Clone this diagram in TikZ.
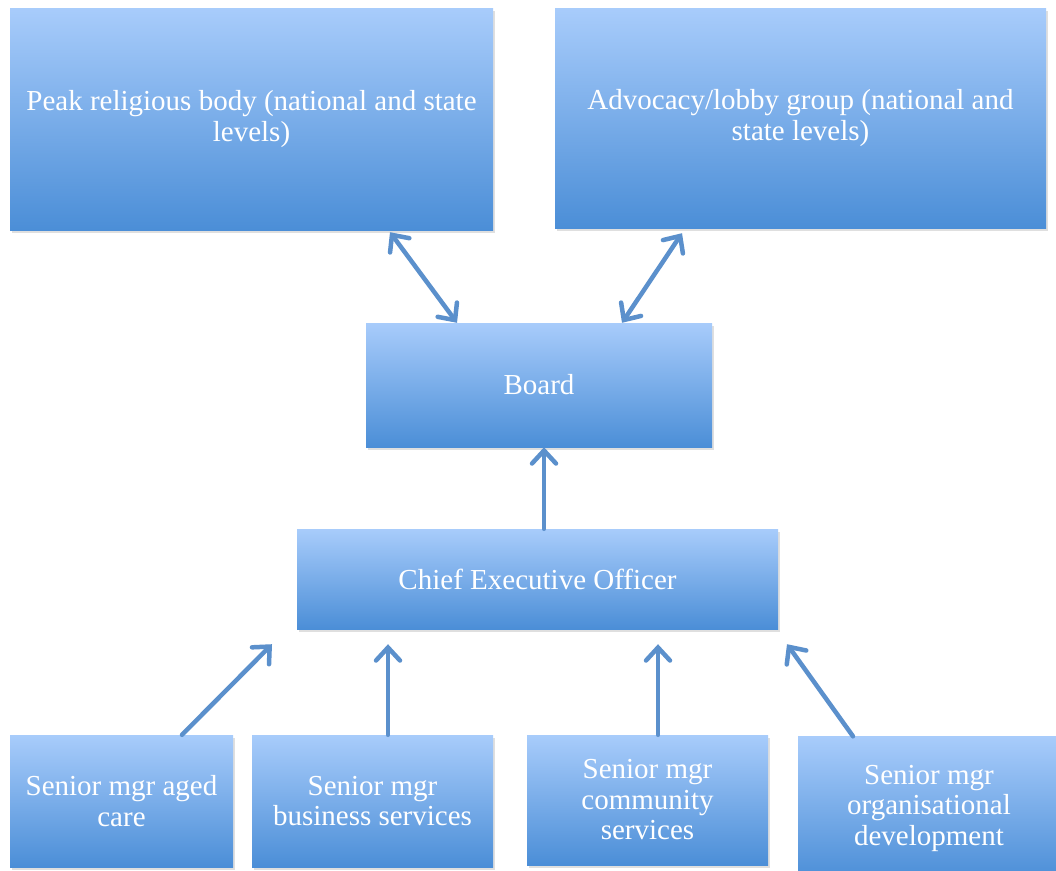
\documentclass[tikz,border=0pt]{standalone}
\usepackage{fontspec}
\setmainfont{Liberation Serif}
\usetikzlibrary{arrows.meta,shadows}
\definecolor{boxtop}{HTML}{A8CCFB}
\definecolor{boxbottom}{HTML}{4B8ED7}
\definecolor{linkblue}{HTML}{5B90CC}
\tikzset{
  orgbox/.style={rectangle, inner sep=4pt, align=center, text=white,
    top color=boxtop, bottom color=boxbottom, draw=none,
    drop shadow={shadow xshift=1.5pt, shadow yshift=-2.5pt, opacity=0.25},
    font=\fontsize{29}{30.5}\selectfont},
  link/.style={draw=linkblue, line width=4.5pt, line cap=round,
    -{Straight Barb[length=13pt,width=24pt,line cap=round]}},
  twoway/.style={link, {Straight Barb[length=13pt,width=24pt,line cap=round]}-{Straight Barb[length=13pt,width=24pt,line cap=round]}}
}
\begin{document}
\begin{tikzpicture}[x=1pt,y=-1pt]
\useasboundingbox[fill=white] (0,0) rectangle (1056,870);

% top level
\node[orgbox, minimum width=483pt, minimum height=222pt] (peak) at (251.5,119)
  {Peak religious body (national and state\\levels)};
\node[orgbox, minimum width=491pt, minimum height=220pt] (advocacy) at (800.5,118)
  {Advocacy/lobby group (national and\\state levels)};

% governance
\node[orgbox, minimum width=346pt, minimum height=124pt] (board) at (539,385) {Board};
\node[orgbox, minimum width=481pt, minimum height=100pt] (ceo) at (537.5,579) {Chief Executive Officer};

% senior managers
\node[orgbox, minimum width=223pt, minimum height=132pt] (aged) at (121.5,801)
  {Senior mgr aged\\care};
\node[orgbox, minimum width=241pt, minimum height=132pt] (business) at (372.5,801)
  {Senior mgr\\business services};
\node[orgbox, minimum width=241pt, minimum height=130pt] (community) at (647.5,800)
  {Senior mgr\\community\\services};
\node[orgbox, minimum width=262pt, minimum height=143pt] (orgdev) at (929,808)
  {Senior mgr\\organisational\\development};

% links between levels
\draw[twoway] ([xshift=138.5pt, yshift=-2pt]peak.south) -- ([xshift=-82pt]board.north);
\draw[twoway] ([xshift=-118.5pt, yshift=-5pt]advocacy.south) -- ([xshift=83pt]board.north);
\draw[link] ([xshift=6.5pt]ceo.north) -- ([xshift=5pt]board.south);

\draw[link] ([xshift=60.5pt]aged.north) -- ([xshift=-265.5pt, yshift=-15pt]ceo.south);
\draw[link] ([xshift=15.5pt]business.north) -- ([xshift=-149.5pt, yshift=-15pt]ceo.south);
\draw[link] ([xshift=10.5pt]community.north) -- ([xshift=120.5pt, yshift=-15pt]ceo.south);
\draw[link] ([xshift=-76pt]orgdev.north) -- ([xshift=249.5pt, yshift=-15pt]ceo.south);
\end{tikzpicture}
\end{document}
